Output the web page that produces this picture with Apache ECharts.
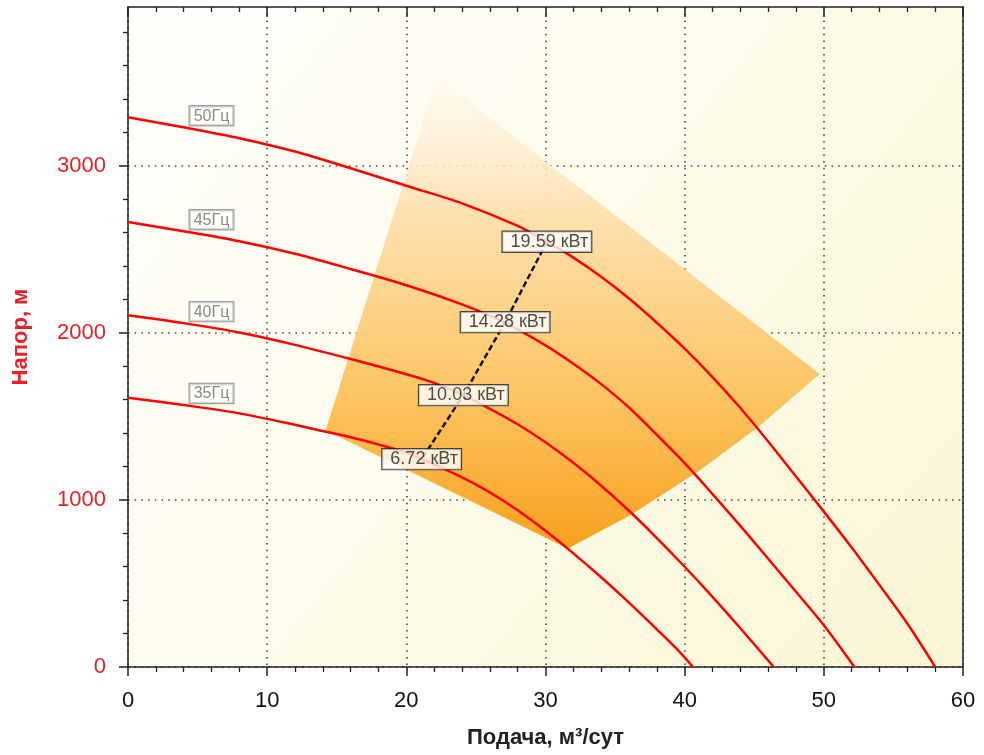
<!DOCTYPE html>
<html><head><meta charset="utf-8">
<script src="https://cdn.jsdelivr.net/npm/echarts@6/dist/echarts.min.js"></script>
<style>html,body{margin:0;padding:0;background:#fff}#c{width:984px;height:755px}</style>
</head><body><div id="c"></div>
<script>
// ---- data ----
const xTicks = [0, 10, 20, 30, 40, 50, 60];
const yTicks = [0, 1000, 2000, 3000];
const yMinorTicks = [200, 400, 600, 800, 1200, 1400, 1600, 1800, 2200, 2400, 2600, 2800, 3200, 3400, 3600, 3800];
const freqNames = ['50Гц', '45Гц', '40Гц', '35Гц'];

const q50 = [0, 4, 8, 12, 16, 20, 24, 28, 30, 32, 34, 36, 38, 40, 42, 44, 46, 48, 50, 52, 54, 56, 58];
const h50 = [3290, 3230, 3165, 3085, 2985, 2880, 2775, 2640, 2550, 2450, 2335, 2205, 2060, 1905, 1735, 1550, 1350, 1140, 930, 715, 490, 260, 0];

const q45 = [0, 4, 8, 12, 16, 20, 24, 27, 30, 32, 34, 36, 38, 40, 42, 44, 46, 48, 50, 52.2];
const h45 = [2663, 2608, 2548, 2473, 2382, 2285, 2170, 2064, 1925, 1815, 1693, 1553, 1390, 1220, 1035, 845, 648, 450, 250, 0];

const q40 = [0, 4, 8, 12, 16, 20, 22, 24, 26, 28, 30, 32, 34, 36, 38, 40, 42, 44, 46.4];
const h40 = [2105, 2058, 2002, 1928, 1843, 1752, 1700, 1630, 1545, 1453, 1345, 1222, 1085, 935, 772, 600, 420, 232, 0];

const q35 = [0, 4, 8, 12, 14, 16, 18, 20, 21.1, 22, 24, 26, 28, 30, 32, 34, 36, 38, 39.7, 40.6];
const h35 = [1612, 1568, 1518, 1450, 1412, 1375, 1332, 1282, 1245, 1213, 1135, 1045, 938, 815, 680, 537, 385, 225, 85, 0];

const bepQ = [30.1, 27.1, 24.1, 21.1];
const bepH = [2545, 2064, 1627, 1244];
const bepPower = ['19.59 кВт', '14.28 кВт', '10.03 кВт', '6.72 кВт'];

const zoneQ = [22.2, 49.7, 45.2, 41.1, 36.1, 31.6, 14.2];
const zoneH = [3531, 1753, 1430, 1178, 908, 709, 1417];

const Y_MAX = 3950;

// ---- chart ----
const FONT = '"Liberation Sans", Arial, Helvetica, sans-serif';
const RED = '#e62228';
const chart = echarts.init(document.getElementById('c'));
const pairs = (q, h) => q.map((v, i) => [v, h[i]]);
const curves = [[q50, h50], [q45, h45], [q40, h40], [q35, h35]];

const series = [];
series.push({
  type: 'custom', silent: true, z: 1,
  data: [[zoneQ[0], zoneH[0]]],
  renderItem: function (params, api) {
    const pts = zoneQ.map((q, i) => api.coord([q, zoneH[i]]));
    return {
      type: 'polygon', shape: { points: pts },
      style: {
        fill: new echarts.graphic.LinearGradient(0, 0, 0, 1, [
          { offset: 0, color: 'rgba(255,248,236,0.5)' },
          { offset: 0.27, color: '#fde3b5' },
          { offset: 0.68, color: '#fcc462' },
          { offset: 1, color: '#f8a01c' }
        ])
      }
    };
  }
});

curves.forEach(([q, h], k) => {
  series.push({
    type: 'line', name: freqNames[k], data: pairs(q, h),
    showSymbol: false, smooth: 0.3, silent: true, z: 3,
    lineStyle: { color: '#ff0000', width: 2.5, join: 'round' },
    markPoint: {
      symbol: 'circle', symbolSize: 0, silent: true,
      data: [{ coord: [q[1], h[1]] }],
      label: {
        show: true, formatter: () => freqNames[k], position: [6, -21],
        fontFamily: FONT, fontSize: 16, color: '#8a8a8a',
        backgroundColor: 'rgba(255,255,255,0.55)', borderColor: '#a0a0a0', borderWidth: 1.2,
        padding: [2, 4, 1, 4]
      }
    }
  });
});

series.push({
  type: 'line', data: pairs(bepQ, bepH), showSymbol: false, silent: true, z: 4,
  lineStyle: { color: '#111', width: 2.5, type: [6, 3] }
});
series.push({
  type: 'scatter', data: pairs(bepQ, bepH), symbolSize: 0, silent: true, z: 6,
  label: {
    show: true, position: 'inside', formatter: p => bepPower[p.dataIndex],
    fontFamily: FONT, fontSize: 18, color: '#222',
    backgroundColor: '#ffffff', borderColor: '#222', borderWidth: 1.2,
    padding: [2, 3, 0, 8]
  }
});

const axisLineStyle = { color: '#222', width: 1.5 };
chart.setOption({
  animation: false,
  backgroundColor: '#ffffff',
  grid: {
    left: 128, right: 21, top: 7, bottom: 88, show: true, borderWidth: 0, outerBoundsMode: 'none',
    backgroundColor: new echarts.graphic.LinearGradient(0, 0, 1, 1, [
      { offset: 0, color: '#fffefb' },
      { offset: 0.5, color: '#fdfbea' },
      { offset: 1, color: '#faf6d4' }
    ])
  },
  xAxis: [{
    type: 'value', min: xTicks[0], max: xTicks[xTicks.length - 1], interval: 10, position: 'bottom',
    axisLine: { show: true, onZero: false, lineStyle: axisLineStyle },
    axisTick: { show: true, length: 9, lineStyle: axisLineStyle },
    minorTick: { show: true, splitNumber: 5, length: 5, lineStyle: { color: '#222', width: 1.3 } },
    splitLine: { show: true, lineStyle: { color: '#444', width: 1.6, type: [1.5, 5.2] } },
    axisLabel: { color: '#111', fontSize: 22, fontFamily: FONT, margin: 23, formatter: v => String(v) },
    name: 'Подача, м³/сут', nameLocation: 'middle', nameGap: 60,
    nameTextStyle: { color: '#222', fontSize: 22, fontWeight: 'bold', fontFamily: FONT }
  }, {
    type: 'value', min: xTicks[0], max: xTicks[xTicks.length - 1], interval: 10, position: 'top',
    axisLine: { show: true, onZero: false, lineStyle: axisLineStyle },
    axisTick: { show: true, inside: true, length: 10, lineStyle: axisLineStyle },
    minorTick: { show: true, splitNumber: 5, length: 5, lineStyle: { color: '#222', width: 1.3 } },
    splitLine: { show: false }, axisLabel: { show: false }
  }],
  yAxis: [{
    type: 'value', min: 0, max: Y_MAX, interval: 1000, position: 'left',
    axisLine: { show: true, onZero: false, lineStyle: axisLineStyle },
    axisTick: { show: true, length: 9, lineStyle: axisLineStyle, customValues: yTicks },
    splitLine: { show: true, lineStyle: { color: '#444', width: 1.6, type: [1.5, 5.2] } },
    axisLabel: { color: RED, fontSize: 22, fontFamily: FONT, margin: 22, customValues: yTicks, formatter: v => String(v) },
    name: 'Напор, м', nameLocation: 'middle', nameGap: 96,
    nameTextStyle: { color: RED, fontSize: 22, fontWeight: 'bold', fontFamily: FONT }
  }, {
    type: 'value', min: 0, max: Y_MAX, interval: 200, position: 'left',
    axisLine: { show: false },
    axisTick: { show: true, length: 5, lineStyle: { color: '#222', width: 1.3 }, customValues: yMinorTicks },
    splitLine: { show: false }, axisLabel: { show: false }
  }, {
    type: 'value', min: 0, max: Y_MAX, position: 'right',
    axisLine: { show: true, onZero: false, lineStyle: axisLineStyle },
    axisTick: { show: false }, splitLine: { show: false }, axisLabel: { show: false }
  }],
  series: series
});
</script></body></html>
